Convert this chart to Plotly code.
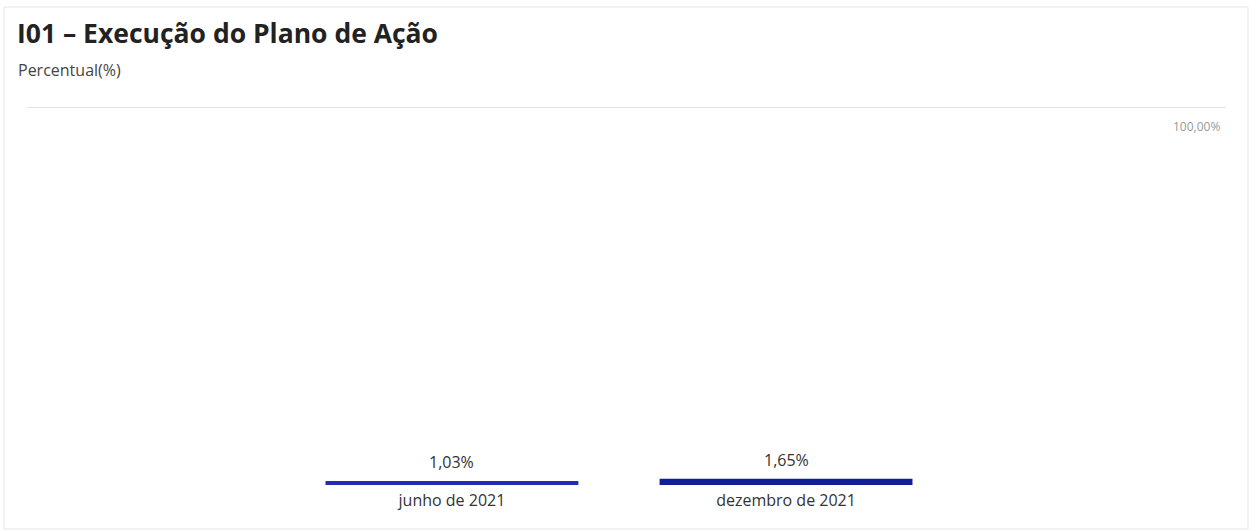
import plotly.graph_objects as go

categories = ["junho de 2021", "dezembro de 2021"]
values = [1.03, 1.65]
bar_colors = ["#1f2fb0", "#101f98"]
y_ticks = [100]
y_tick_labels = ["100,00%"]

W, H = 1256, 531
L, R, T, B = 27, 30, 107, 46
pw, ph = W - L - R, H - T - B

def px(x):
    return (x - L) / pw

def py(y):
    return (H - B - y) / ph

fig = go.Figure()
fig.add_trace(go.Bar(
    x=categories,
    y=values,
    marker=dict(color=bar_colors, line=dict(width=0)),
    width=0.757,
    hoverinfo="skip",
))

shapes = [dict(
    type="rect", xref="paper", yref="paper",
    x0=px(4), x1=px(1248), y0=py(529), y1=py(7),
    line=dict(color="#e6e6e6", width=1), fillcolor="rgba(0,0,0,0)",
    layer="below",
)]
for yv in y_ticks:
    shapes.append(dict(type="line", xref="paper", yref="y", x0=0, x1=1, y0=yv, y1=yv,
                       line=dict(color="#e3e3e3", width=2), layer="below"))

annotations = [
    dict(text="<b>I01 – Execução do Plano de Ação</b>", xref="paper", yref="paper",
         x=px(15), y=py(33), xanchor="left", yanchor="middle", showarrow=False,
         font=dict(family="Open Sans", size=26.5, color="#222222")),
    dict(text="Percentual(%)", xref="paper", yref="paper",
         x=px(16), y=py(70), xanchor="left", yanchor="middle", showarrow=False,
         font=dict(family="Open Sans", size=16, color="#444444")),
]
for yv, lab in zip(y_ticks, y_tick_labels):
    annotations.append(dict(text=lab, xref="paper", yref="y", x=px(1222), y=yv,
                            xanchor="right", yanchor="top", yshift=-9, showarrow=False,
                            font=dict(family="Open Sans", size=12, color="#999999")))
for c, v in zip(categories, values):
    annotations.append(dict(text=f"{v:.2f}%".replace(".", ","), x=c, y=v, xref="x", yref="y",
                            xanchor="center", yanchor="bottom", yshift=6, showarrow=False,
                            font=dict(family="Open Sans", size=16, color="#333333")))

fig.update_layout(
    width=W, height=H,
    margin=dict(l=L, r=R, t=T, b=B),
    paper_bgcolor="white", plot_bgcolor="white",
    showlegend=False,
    font=dict(family="Open Sans", color="#333333"),
    xaxis=dict(
        type="category",
        range=[-1.272, 2.317],
        showgrid=False, showline=False, zeroline=False,
        ticks="", ticklabelstandoff=4,
        tickfont=dict(family="Open Sans", size=16, color="#333333"),
    ),
    yaxis=dict(
        range=[0, 100],
        showticklabels=False,
        showgrid=False, zeroline=False, showline=False, ticks="",
    ),
    shapes=shapes,
    annotations=annotations,
)

fig.write_html("out.html", config={"displayModeBar": False},
               post_script="document.body.style.margin='0';")
